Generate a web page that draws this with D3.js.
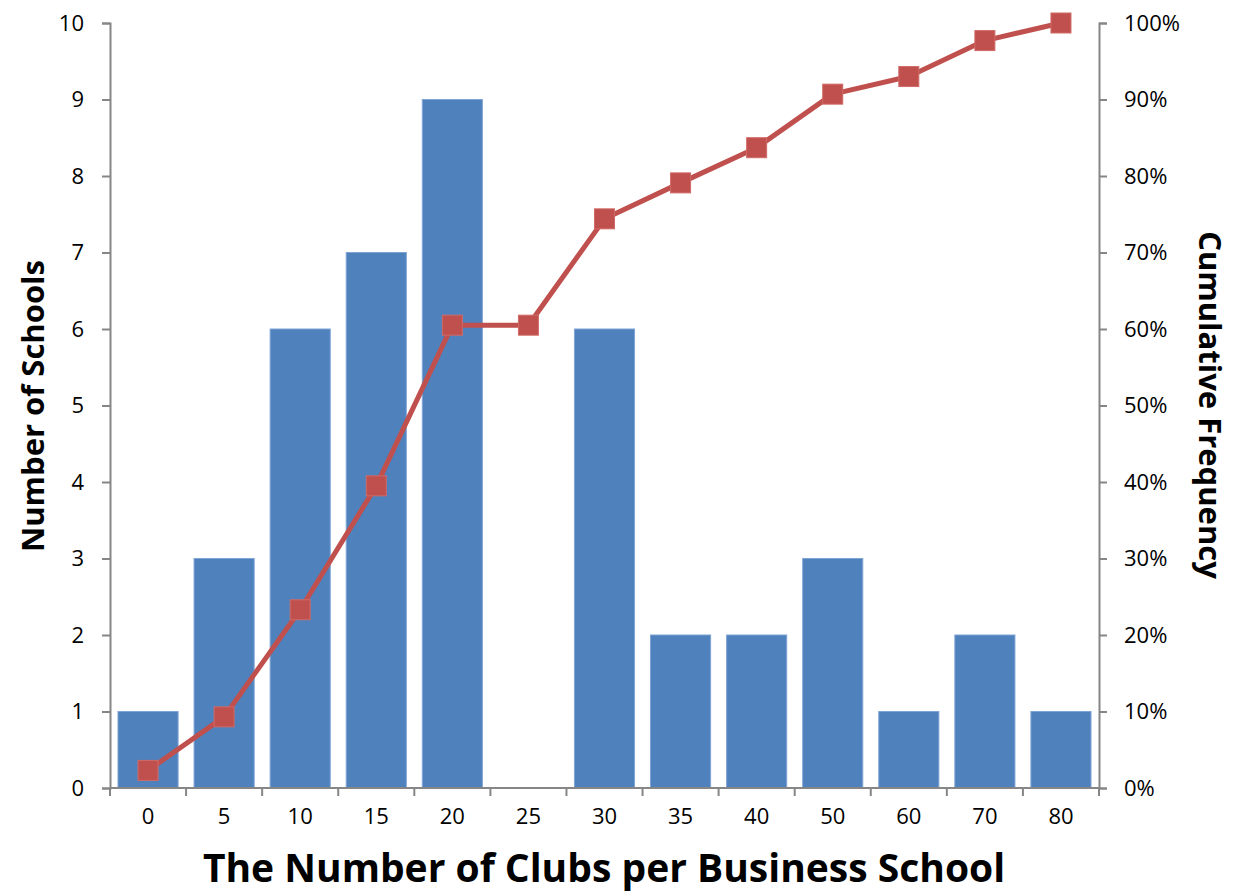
<!DOCTYPE html>
<html><head><meta charset="utf-8">
<script src="https://cdn.jsdelivr.net/npm/d3@7"></script>
<style>body{margin:0;background:#fff}svg{display:block}text{font-family:"Open Sans",sans-serif}</style>
</head><body><svg id="c" width="1243" height="894"></svg>
<script>
const categories = ["0","5","10","15","20","25","30","35","40","50","60","70","80"];
const schools = [1,3,6,7,9,0,6,2,2,3,1,2,1];
const cumulative = [0.023,0.093,0.233,0.395,0.605,0.605,0.744,0.791,0.837,0.907,0.930,0.977,1.0];
const leftTicks = [0,1,2,3,4,5,6,7,8,9,10];
const rightTicks = [0,0.1,0.2,0.3,0.4,0.5,0.6,0.7,0.8,0.9,1.0];

const svg = d3.select("#c");
const L = 110, R = 1099, T = 23, B = 788;
const x = d3.scaleBand().domain(categories).range([L, R]).paddingInner(0.21).paddingOuter(0.105);
const xc = d3.scaleBand().domain(categories).range([L, R]);
const y = d3.scaleLinear().domain([0,10]).range([B, T]);
const y2 = d3.scaleLinear().domain([0,1]).range([B, T]);
const axisColor = "#868686";

svg.selectAll("rect.bar").data(categories).enter().append("rect")
  .attr("x", d => x(d)).attr("width", x.bandwidth())
  .attr("y", (d,i) => y(schools[i])).attr("height", (d,i) => y(0) - y(schools[i]))
  .attr("fill", "#4F81BD").attr("stroke", "#7FA4D6").attr("stroke-width", 1);

const gl = svg.append("g").attr("transform", `translate(${L},0)`)
  .call(d3.axisLeft(y).tickValues(leftTicks).tickSize(8).tickPadding(18).tickFormat(d3.format("d")));
const gr = svg.append("g").attr("transform", `translate(${R},0)`)
  .call(d3.axisRight(y2).tickValues(rightTicks).tickSize(8).tickPadding(17).tickFormat(d3.format(".0%")));
const gb = svg.append("g").attr("transform", `translate(0,${B})`)
  .call(d3.axisBottom(xc).tickSize(0).tickPadding(20));
gb.selectAll("line.sep").data(d3.range(categories.length + 1)).enter().append("line")
  .attr("class","sep")
  .attr("x1", i => L + i * xc.step()).attr("x2", i => L + i * xc.step())
  .attr("y1", 0).attr("y2", 8).attr("stroke", axisColor).attr("stroke-width", 2);

[gl, gr, gb].forEach(g => {
  g.selectAll("path.domain").attr("stroke", axisColor).attr("stroke-width", 2);
  g.selectAll(".tick line").attr("stroke", axisColor).attr("stroke-width", 2);
  g.selectAll(".tick text").attr("fill", "#000").style("font-size", "22px");
});
gb.select("path.domain").attr("d", `M${L},0H${R}`);

const line = d3.line().x((d,i) => xc(categories[i]) + xc.bandwidth()/2).y(d => y2(d));
svg.append("path").datum(cumulative).attr("d", line)
  .attr("fill", "none").attr("stroke", "#C0504D").attr("stroke-width", 5).attr("stroke-linejoin","round");
svg.selectAll("rect.m").data(cumulative).enter().append("rect")
  .attr("x", (d,i) => xc(categories[i]) + xc.bandwidth()/2 - 10)
  .attr("y", d => y2(d) - 10).attr("width", 20).attr("height", 20)
  .attr("fill", "#C0504D").attr("stroke", "#D06A67").attr("stroke-width", 1);

svg.append("text").attr("x", 604).attr("y", 882).attr("text-anchor","middle")
  .style("font-size","39px").style("font-weight","bold").text("The Number of Clubs per Business School");
svg.append("text").attr("transform","translate(44,406) rotate(-90)").attr("text-anchor","middle")
  .style("font-size","31px").style("font-weight","bold").text("Number of Schools");
svg.append("text").attr("transform","translate(1199,405) rotate(90)").attr("text-anchor","middle")
  .style("font-size","31px").style("font-weight","bold").text("Cumulative Frequency");
</script></body></html>
